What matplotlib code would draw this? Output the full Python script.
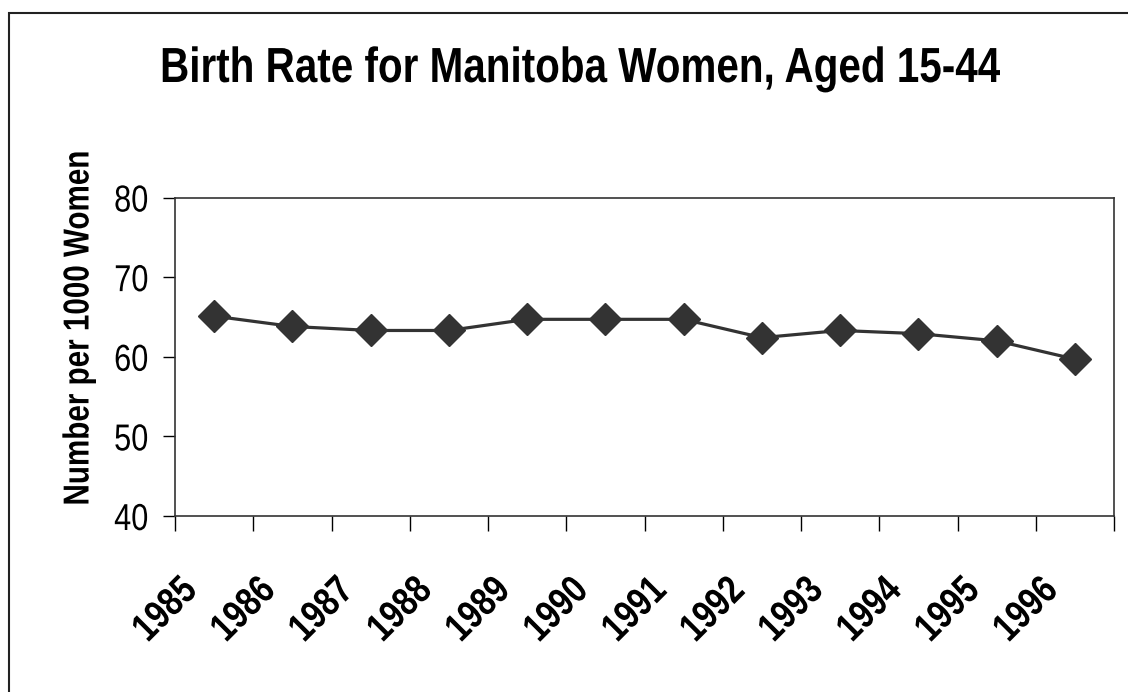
import matplotlib
matplotlib.use('Agg')
import matplotlib.pyplot as plt
from matplotlib import font_manager as fm
from matplotlib.patches import Rectangle
from matplotlib.patheffects import AbstractPathEffect
from matplotlib.transforms import Affine2D

# data
years = ['1985', '1986', '1987', '1988', '1989', '1990',
         '1991', '1992', '1993', '1994', '1995', '1996']
rates = [65.1, 63.8, 63.3, 63.3, 64.7, 64.7, 64.7, 62.4, 63.3, 62.9, 62.0, 59.7]
y_ticks = [40, 50, 60, 70, 80]


class Narrow(AbstractPathEffect):
    """squeeze glyphs sideways to mimic a narrow face (Arial Narrow)"""

    def __init__(self, sx=0.82, anchor=0.5):
        super().__init__()
        self.sx = sx
        self.anchor = anchor

    def draw_path(self, renderer, gc, tpath, affine, rgbFace=None):
        ext = tpath.get_extents()
        cx = ext.x0 + self.anchor * (ext.x1 - ext.x0)
        squeeze = Affine2D().translate(-cx, 0).scale(self.sx, 1).translate(cx, 0)
        renderer.draw_path(gc, tpath, squeeze + affine, rgbFace)


names = {f.name for f in fm.fontManager.ttflist}
if 'Liberation Sans Narrow' in names:
    plt.rcParams['font.family'] = ['Liberation Sans Narrow', 'DejaVu Sans']
    SX = 1.0
else:
    plt.rcParams['font.family'] = ['Liberation Sans', 'DejaVu Sans']
    SX = 0.82

W, H = 1128, 692
fig = plt.figure(figsize=(W / 100, H / 100), dpi=100)
ax = fig.add_axes([175 / W, 1 - 516 / H, (1114 - 175) / W, (516 - 197.5) / H])

x = list(range(len(years)))
ax.plot(x, rates, color='#333333', lw=2.3, marker='D', ms=16,
        markerfacecolor='#333333', markeredgecolor='#333333')

ax.set_xlim(-0.5, len(years) - 0.5)
ax.set_ylim(40, 80)
ax.set_yticks(y_ticks)
ax.tick_params(axis='y', labelsize=27, length=9, width=1, direction='out', pad=10)
for lab in ax.get_yticklabels():
    lab.set_path_effects([Narrow(SX, 1.0)])
ax.set_xticks([i - 0.5 for i in range(len(years) + 1)])
ax.set_xticklabels([])
ax.tick_params(axis='x', length=11, width=1, direction='out')
for s in ax.spines.values():
    s.set_color('#333333')
    s.set_linewidth(1.2)

# rotated year labels, Excel style
for i, yr in enumerate(years):
    ax.annotate(yr, xy=(i, 0), xycoords=ax.get_xaxis_transform(),
                xytext=(-23, -68), textcoords='offset pixels',
                rotation=45, ha='right', va='center', rotation_mode='anchor',
                fontsize=28.5, fontweight='bold',
                path_effects=[Narrow(SX, 1.0)])

fig.text(579 / W, 1 - 82 / H, 'Birth Rate for Manitoba Women, Aged 15-44',
         ha='center', va='baseline', fontsize=35.5, fontweight='bold',
         path_effects=[Narrow(SX, 0.5)])
fig.text(79 / W, 1 - 328 / H, 'Number per 1000 Women', rotation=90,
         ha='center', va='center', fontsize=26, fontweight='bold',
         path_effects=[Narrow(SX, 0.5)])

# outer frame
fig.patches.append(Rectangle((9 / W, -0.05), 1.2, 1 - 13 / H + 0.05,
                             transform=fig.transFigure, fill=False,
                             edgecolor='#222222', lw=1.5))

fig.savefig('out.png', dpi=100)
